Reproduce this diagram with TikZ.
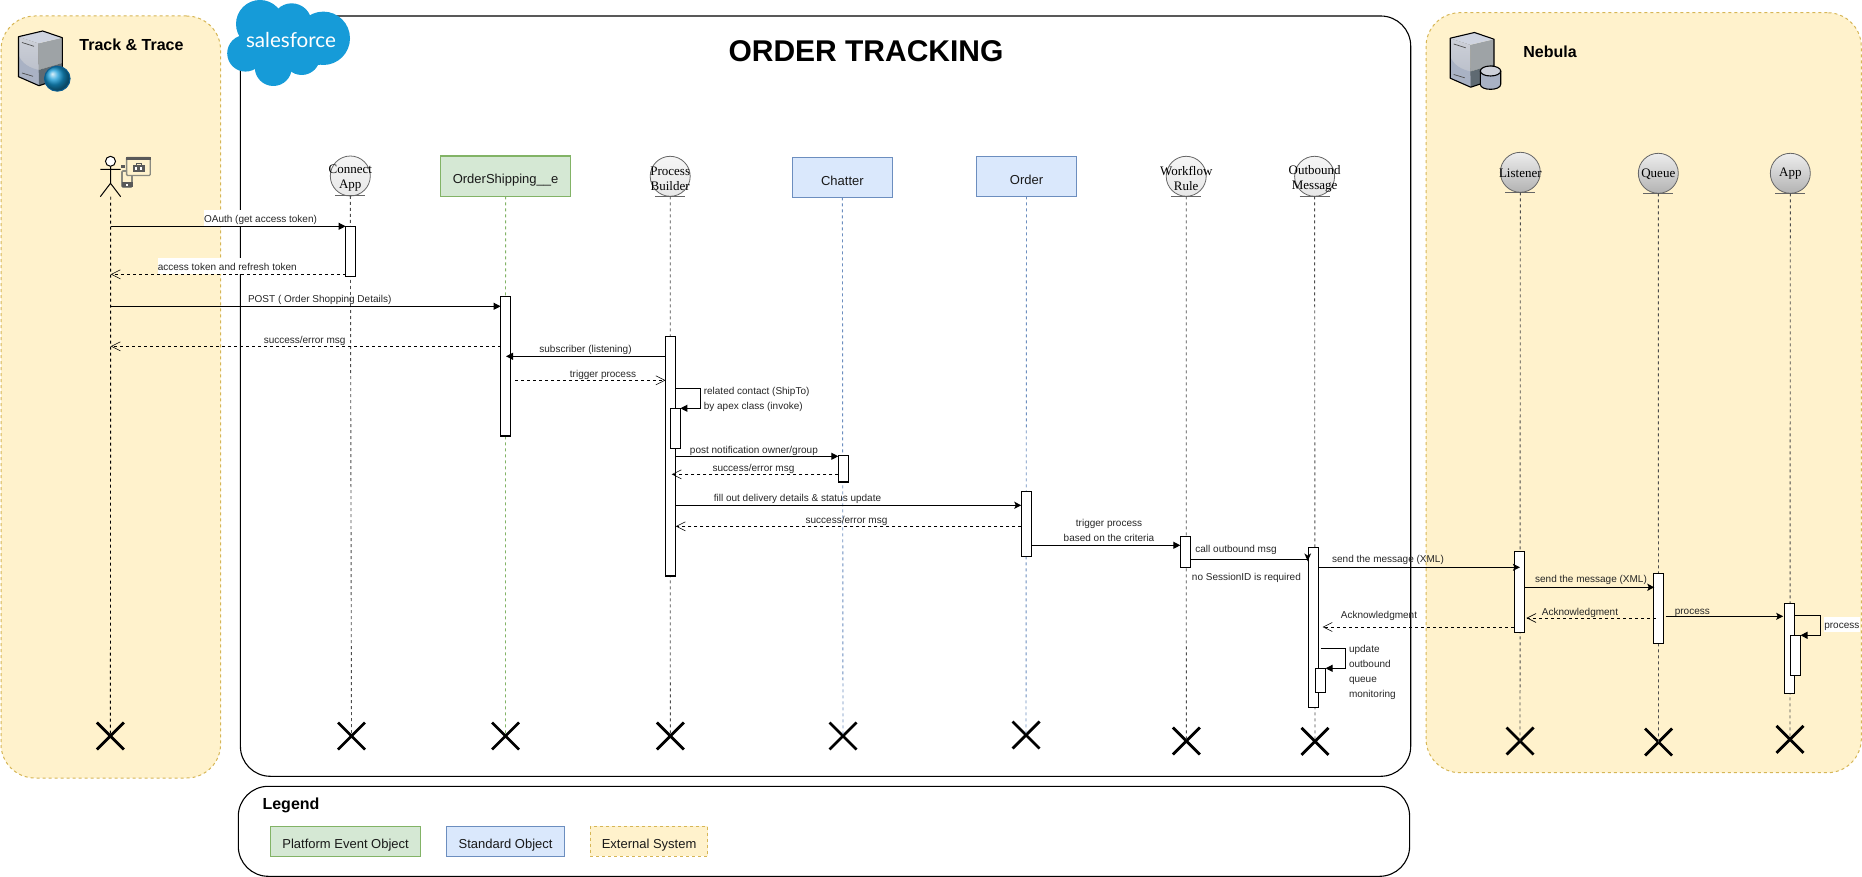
\documentclass[tikz,border=0pt]{standalone}
\usepackage{fontspec}
\setmainfont{Liberation Sans}
\newfontfamily\serifface{Liberation Serif}
\newfontfamily\logoface{Lato}
\usetikzlibrary{arrows.meta,shapes.misc}
\definecolor{extfill}{HTML}{FFF2CC}
\definecolor{extline}{HTML}{D6B656}
\definecolor{greenfill}{HTML}{D5E8D4}
\definecolor{greenline}{HTML}{82B366}
\definecolor{bluefill}{HTML}{DAE8FC}
\definecolor{blueline}{HTML}{6C8EBF}
\definecolor{sfblue}{HTML}{169BD8}
\definecolor{icongray}{HTML}{8A8A80}
\definecolor{srva}{HTML}{B4BAC6}
\definecolor{srvb}{HTML}{CDD0D8}
\definecolor{srvc}{HTML}{A9B2C4}
\definecolor{srvd}{HTML}{9EA3A6}
\definecolor{srve}{HTML}{5F6A72}
\definecolor{srvf}{HTML}{CFD4E0}
\definecolor{globeline}{HTML}{0B5E92}
\newcommand\bx[7][]{\node[boxn,#1,minimum width={(#5)-(#3)},minimum height={(#6)-(#4)}] (#2) at ({((#3)+(#5))/2},{((#4)+(#6))/2}) {#7};}
\newcommand\headn[6]{\node[#1] (#2) at (#3,#4) {};\node[headtext] (#2t) at (#3,{(#4)+(#6)}) {#5};}
\newcommand\serverbody{%
  \fill[bottom color=srva,top color=srvb] (18.5,36.7) -- (38.5,43.3) -- (39,85.7) -- (18.5,76.7) -- cycle;
  \fill[srvc] (18.5,55) .. controls (22,64) and (30,68) .. (38.7,70) -- (39,85.7) -- (18.5,76.7) -- cycle;
  \fill[srvd] (38.5,43.3) -- (62.3,37.7) -- (62.3,63) -- (38.7,70) -- cycle;
  \fill[srve] (38.7,70) -- (62.3,63) -- (62.3,78) -- (39,85.7) -- cycle;
  \fill[srvf] (18.5,36.7) -- (42.7,31) -- (62.3,37.7) -- (38.5,43.3) -- cycle;
  \draw[black,line width=1.1,line join=round] (18.5,36.7) -- (42.7,31) -- (62.3,37.7) -- (62.3,78) -- (39,85.7) -- (18.5,76.7) -- cycle;
  \draw[black!70,line width=.7] (22,42.5) -- (34,46.3) (22,73) -- (33,76.3);
}
\tikzset{
  boxn/.style={rectangle,inner sep=0,outer sep=0,align=center},
  extpanel/.style={draw=extline,fill=extfill,dashed,dash pattern=on 3pt off 3pt,line width=1,rounded corners=34},
  mainpanel/.style={draw=black,line width=1.1,rounded corners=30},
  boxtext/.style={text height=16.7,text depth=3,text=black!90,font=\fontsize{13}{15}\selectfont},
  greenbox/.style={draw=greenline,fill=greenfill,line width=1.2,boxtext},
  bluebox/.style={draw=blueline,fill=bluefill,line width=1.2,boxtext},
  yellowbox/.style={draw=extline,fill=extfill,dashed,dash pattern=on 3pt off 3pt,line width=1,boxtext},
  headtall/.style={text height=18.7},
  abar/.style={draw=black,fill=white,line width=1.1},
  headbase/.style={circle,draw=black!60,line width=.8,minimum size=40,inner sep=0,outer sep=0},
  headtext/.style={inner sep=0,outer sep=0,align=center,font=\serifface\fontsize{13}{15}\selectfont},
  head/.style={headbase,top color=black!4,bottom color=black!9},
  nebhead/.style={headbase,top color=black!7,bottom color=black!30},
  headline/.style={draw=black!60,line width=1},
  life/.style={dashed,dash pattern=on 3pt off 3pt,line width=.9,draw=black!70},
  msg/.style={draw=black,line width=1.1,-{Triangle[length=7pt,width=7pt]}},
  msgs/.style={draw=black,line width=1.1,-{Stealth[length=7pt,width=7pt,inset=1.5pt]}},
  ret/.style={draw=black,line width=1,dashed,dash pattern=on 3pt off 3pt,-{Straight Barb[length=9pt,width=9pt,line width=.6pt]}},
  lbl/.style={inner sep=0,outer sep=0,text=black!85,text height=9,text depth=.5,font=\fontsize{10}{12}\selectfont},
  lbm/.style={inner sep=0,outer sep=0,text=black!85,align=left,font=\fontsize{10}{15}\selectfont},
  xmark/.style={cross out,draw=black,line width=2.8,minimum width=27,minimum height=27,inner sep=0,outer sep=0},
  bold16/.style={inner sep=0,outer sep=0,font=\bfseries\fontsize{16}{18}\selectfont},
}
\begin{document}
\begin{tikzpicture}[x=1pt,y=-1pt]
\useasboundingbox (0,0) rectangle (1862,877);
% panels
\bx[extpanel]{ptrack}{1}{16}{220.6}{778}{}
\bx[mainpanel]{pmain}{240.4}{16}{1410.7}{776.3}{}
\bx[extpanel]{pneb}{1426}{12.7}{1861.3}{772.7}{}
\bx[mainpanel]{pleg}{238.3}{786.3}{1409.6}{876.3}{}
% salesforce logo
\fill[sfblue] (260,24) circle (24);
\fill[sfblue] (291.7,23.3) circle (20);
\fill[sfblue] (323.3,38.3) circle (26.7);
\fill[sfblue] (245.5,53.3) circle (18.3);
\fill[sfblue] (273.3,67.5) circle (18.5);
\fill[sfblue] (301.7,56.7) circle (18.3);
\fill[sfblue] (250,25) rectangle (320,65);
\node[inner sep=0,outer sep=0,text=white,font=\logoface\fontsize{20.6}{22}\selectfont] (sftext) at (291,39.5) {salesforce};
% title
\node[inner sep=0,outer sep=0,font=\bfseries\fontsize{30}{32}\selectfont] (title) at (866,51) {ORDER TRACKING};
\node[bold16] (ttrack) at (131.5,44.5) {Track \& Trace};
\node[bold16] (tneb) at (1550,52) {Nebula};
\node[bold16] (tleg) at (291,805.8) {Legend};
% legend
\bx[greenbox]{lga}{270.4}{826.3}{420.8}{856.3}{Platform Event Object}
\bx[bluebox]{lgb}{446.8}{826.3}{564.3}{856.3}{Standard Object}
\bx[yellowbox]{lgc}{590.4}{826.3}{707.8}{856.3}{External System}
% server icons
\begin{scope}
  \serverbody
  \shade[ball color=sfblue] (57.3,78.7) ellipse (12.8 and 12.5);
  \draw[globeline,line width=1] (57.3,78.7) ellipse (12.8 and 12.5);
\end{scope}
\begin{scope}[shift={(1431.7,1.5)}]
  \serverbody
\end{scope}
\draw[black,line width=1.1,fill=srvc] (1480.3,71) -- (1480.3,84.3) .. controls (1480.3,91) and (1500.7,91) .. (1500.7,84.3) -- (1500.7,71);
\draw[black,line width=1.1,fill=srvb] (1490.5,71) ellipse (10.2 and 5);
% actor
\node[circle,draw=black,fill=white,line width=1,minimum size=10,inner sep=0,outer sep=0] (actorh) at (110.5,161.3) {};
\coordinate (actorhip) at (110.5,183.3);
\coordinate (actorl) at (110.7,196.7);
\draw[black,line width=1] (actorh) -- (actorhip) (100.3,169.3) -- (120.7,169.3) (100.3,196.7) -- (actorhip) -- (120.7,196.7);
% device icon
\draw[icongray,line width=1.6,fill=extfill,rounded corners=1] (122,171) rectangle (132,187);
\fill[black!65] (121.5,182.5) rectangle (132.5,187.5);
\fill[white] (125.5,184.4) rectangle (128,185.6);
\fill[black!65] (120.5,165.5) rectangle (125,168.5);
\draw[icongray,line width=1.3,fill=extfill,rounded corners=1] (126.6,157.5) rectangle (150.2,175.5);
\fill[black!65] (126.3,157.2) rectangle (150.5,160.2);
\fill[black!65] (132.5,165.5) rectangle (144.5,172);
\draw[black!65,line width=.9] (136,165.5) -- (136,163.7) -- (141,163.7) -- (141,165.5);
\fill[white] (135,167.5) rectangle (137,170);
\fill[white] (140,167.5) rectangle (142,170);
% heads
\headn{head}{hcon}{350.3}{176}{Connect\\App}{2.4}
\bx[greenbox,headtall]{hos}{440.5}{156}{570.6}{196.3}{OrderShipping\_\_e}
\headn{head}{hproc}{670.2}{176.3}{Process\\Builder}{2.4}
\bx[bluebox,headtall]{hch}{792.4}{157.3}{892.4}{197.3}{Chatter}
\bx[bluebox,headtall]{hord}{976.3}{156.3}{1076.7}{196.3}{Order}
\headn{head}{hwf}{1186.2}{176.3}{Workflow\\Rule}{2.4}
\headn{head}{hout}{1314.6}{176.3}{Outbound\\Message}{2.4}
\headn{nebhead}{hlis}{1520.3}{172.3}{Listener}{.5}
\headn{nebhead}{hque}{1658.3}{173.3}{Queue}{.5}
\headn{nebhead}{happ}{1790.3}{173.3}{App}{.5}
\foreach \h in {hcon,hproc,hwf,hout,hlis,hque,happ}
  \draw[headline] (\h.south) ++(-15,0) -- ++(30,0);
% destroy marks
\node[xmark] (xact) at (110.4,736) {};
\node[xmark] (xcon) at (351.5,736) {};
\node[xmark] (xos) at (505.5,736) {};
\node[xmark] (xproc) at (670.3,736) {};
\node[xmark] (xch) at (843,736) {};
\node[xmark] (xord) at (1026,735) {};
\node[xmark] (xwf) at (1186.3,741) {};
\node[xmark] (xout) at (1315,741.3) {};
\node[xmark] (xlis) at (1520,741) {};
\node[xmark] (xque) at (1658.5,742) {};
\node[xmark] (xapp) at (1790,739.3) {};
% lifelines
\draw[life,draw=black] (actorl) -- (xact.center);
\draw[life] (hcon.south) -- (xcon.center);
\draw[life,draw=greenline] (hos.south) -- (xos.center);
\draw[life] (hproc.south) -- (xproc.center);
\draw[life,draw=blueline] (hch.south) -- (xch.center);
\draw[life,draw=blueline] (hord.south) -- (xord.center);
\draw[life] (hwf.south) -- (xwf.center);
\draw[life] (hout.south) -- (xout.center);
\draw[life] (hlis.south) -- (xlis.center);
\draw[life] (hque.south) -- (xque.center);
\draw[life] (happ.south) -- (xapp.center);
% activation bars
\bx[abar]{bcon}{345.6}{226.3}{355.5}{276.3}{}
\bx[abar]{bos}{500.6}{296.3}{510.3}{436}{}
\bx[abar]{bproc}{665.5}{336.3}{675.7}{576}{}
\bx[abar]{bprocs}{670.2}{408.3}{680.4}{448.3}{}
\bx[abar]{bch}{838.3}{455.7}{848.5}{482}{}
\bx[abar]{bord}{1021.3}{491.3}{1031.4}{556.3}{}
\bx[abar]{bwf}{1180.3}{536.3}{1190.6}{567.3}{}
\bx[abar]{bout}{1308.2}{547.3}{1318.5}{707.3}{}
\bx[abar]{bouts}{1315.4}{668.3}{1325.6}{692.3}{}
\bx[abar]{blis}{1514.5}{551.3}{1524.4}{632.3}{}
\bx[abar]{bque}{1653.3}{573.3}{1663.6}{643.3}{}
\bx[abar]{bapp}{1784.2}{603.3}{1794.6}{693.3}{}
\bx[abar]{bapps}{1790.2}{635.3}{1800.5}{675.3}{}
% messages
\draw[msg] (actorl |- 0,226.3) -- (bcon.west |- 0,226.3);
\draw[ret] (bcon.west |- 0,274.3) -- (actorl |- 0,274.3);
\draw[msg] (actorl |- 0,306.3) -- (bos.west |- 0,306.3);
\draw[ret] (bos.west |- 0,346.3) -- (actorl |- 0,346.3);
\draw[msg] (bproc.west |- 0,356.3) -- ([xshift=-4.3]bos.east |- 0,356.3);
\draw[ret] ([xshift=5]bos.east |- 0,380.3) -- (bproc.west |- 0,380.3);
\draw[msg] (bproc.east |- 0,388.3) -- ++(24.6,0) -- ++(0,20) -- (bprocs.east |- 0,408.3);
\draw[msg] (bproc.east |- 0,456.3) -- (bch.west |- 0,456.3);
\draw[ret] (bch.west |- 0,474.3) -- ([xshift=-4]bproc.east |- 0,474.3);
\draw[msgs] (bproc.east |- 0,505.3) -- (bord.west |- 0,505.3);
\draw[ret] (bord.west |- 0,526.3) -- (bproc.east |- 0,526.3);
\draw[msg] (bord.east |- 0,545.3) -- (bwf.west |- 0,545.3);
\draw[draw=black,line width=1.1] (bwf.east |- 0,559.3) -- ([xshift=-.5]bout.west |- 0,559.3);
\fill[black] (1304.3,553.3) -- (1307.7,555.6) -- (1311.1,553.3) -- (1307.7,561.3) -- cycle;
\draw[msgs] (bout.east |- 0,567.3) -- ([xshift=-4.5]blis.east |- 0,567.3);
\draw[msgs] (blis.east |- 0,587.3) -- ([xshift=1]bque.west |- 0,587.3);
\draw[ret] ([xshift=2.4]bque.west |- 0,618) -- ([xshift=2]blis.east |- 0,618);
\draw[ret] ([xshift=-1]blis.west |- 0,627) -- ([xshift=4]bout.east |- 0,627);
\draw[msgs] ([xshift=2]bque.east |- 0,616.3) -- ([xshift=-1]bapp.west |- 0,616.3);
\draw[msg] ([xshift=.7]bapp.east |- 0,615.3) -- ++(25.4,0) -- ++(0,20) -- (bapps.east |- 0,635.3);
\draw[msg] ([xshift=2]bout.east |- 0,648.3) -- ++(25,0) -- ++(0,20) -- (bouts.east |- 0,668.3);
% labels
\node[lbl,fill=white,minimum width=113,minimum height=16] (l1) at (260.5,218) {OAuth (get access token)};
\node[lbl,fill=white,minimum width=139,minimum height=16] (l2) at (227.3,266) {access token and refresh token};
\node[lbl] (l3) at (319.7,298.7) {POST ( Order Shopping Details)};
\node[lbl] (l4) at (304.6,339) {success/error msg};
\node[lbl] (l5) at (585.5,348.7) {subscriber (listening)};
\node[lbl] (l6) at (603,373) {trigger process};
\node[lbm,anchor=west] (l7) at (703.8,399.2) {related contact (ShipTo)\\by apex class (invoke)};
\node[lbl] (l8) at (753.9,449) {post notification owner/group};
\node[lbl] (l9) at (753.5,467) {success/error msg};
\node[lbl] (l10) at (797.5,497.7) {fill out delivery details \& status update};
\node[lbl] (l11) at (846.5,519) {success/error msg};
\node[lbm,align=center] (l12) at (1109,530.8) {trigger process\\based on the criteria};
\node[lbl] (l13) at (1236,548) {call outbound msg};
\node[lbl] (l14) at (1246.4,576.7) {no SessionID is required};
\node[lbl] (l15) at (1388,558.7) {send the message (XML)};
\node[lbl] (l16) at (1591,578.7) {send the message (XML)};
\node[lbl] (l17) at (1580,611.7) {Acknowledgment};
\node[lbl] (l18) at (1379,614.7) {Acknowledgment};
\node[lbl] (l19) at (1692.3,610) {process};
\node[lbl,fill=white,minimum width=36,minimum height=15] (l20) at (1841.8,624.5) {process};
\node[lbm,anchor=west] (l21) at (1349,672) {update\\outbound\\queue\\monitoring};
\end{tikzpicture}
\end{document}
